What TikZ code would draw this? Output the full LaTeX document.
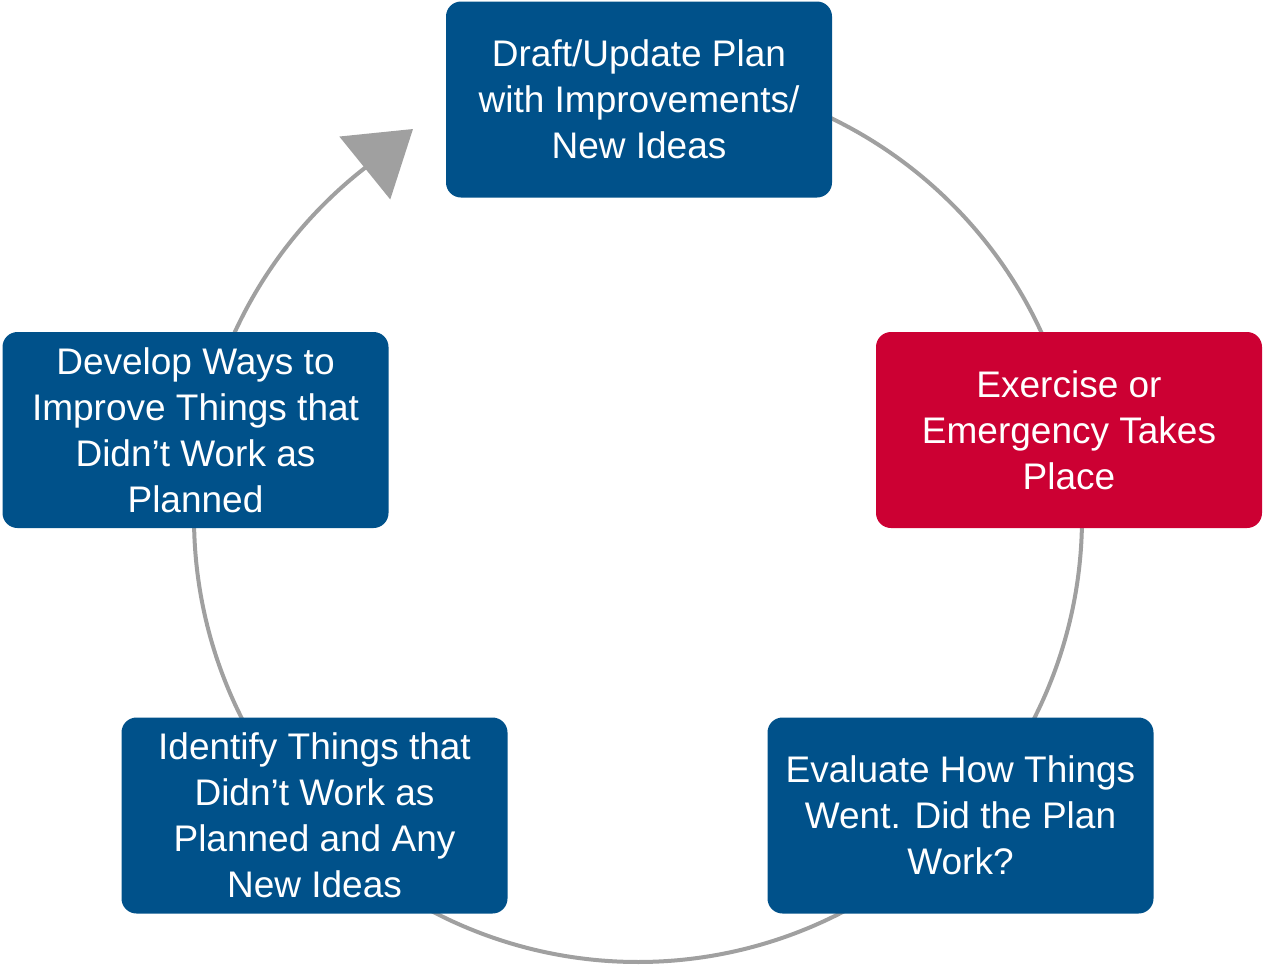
\documentclass[tikz,border=0pt]{standalone}
\usepackage{fontspec}
\setmainfont{Liberation Sans}
\usetikzlibrary{arrows.meta,backgrounds}
\definecolor{boxblue}{HTML}{00518A}
\definecolor{boxred}{HTML}{CC0033}
\definecolor{ringgray}{HTML}{A0A0A0}
\begin{document}
\begin{tikzpicture}[x=1pt,y=1pt,
  stepbox/.style={rounded corners=15pt, minimum width=386pt, minimum height=196pt,
    inner sep=0pt, align=center, text=white, font=\fontsize{37}{46}\selectfont},
  bluebox/.style={stepbox, fill=boxblue},
  redbox/.style={stepbox, fill=boxred},
  ring/.style={draw=ringgray, line width=4pt},
]
\useasboundingbox (0,0) rectangle (1263,-967);
\coordinate (c) at (638,-518);
\coordinate (tip) at (413,-129);

\node[bluebox] (plan) at (639,-99.5) {Draft/Update Plan\\with Improvements/\\New Ideas};
\node[redbox] (exercise) at (1069,-430) {Exercise or\\Emergency Takes\\Place};
\node[bluebox] (evaluate) at (960.5,-815.5) {Evaluate How Things\\Went. Did the Plan\\Work?};
\node[bluebox] (identify) at (314.5,-815.5) {Identify Things that\\Didn’t Work as\\Planned and Any\\New Ideas};
\node[bluebox] (develop) at (195.5,-430) {Develop Ways to\\Improve Things that\\Didn’t Work as\\Planned};

\begin{scope}[on background layer]
  \draw[ring] (c) ++(90:444) arc[start angle=90, end angle=11.5, radius=444];
  \draw[ring] (c) ++(11.5:444) arc[start angle=11.5, end angle=-42.7, radius=444];
  \draw[ring] (c) ++(-42.7:444) arc[start angle=-42.7, end angle=-137.4, radius=444];
  \draw[ring] (c) ++(-137.4:444) arc[start angle=-137.4, end angle=-191.2, radius=444];
  \draw[ring, -{Triangle[length=62pt, width=80pt]}] (c) ++(-191.2:444)
      arc[start angle=-191.2, end angle=-232, radius=444] -- (tip);
\end{scope}
\end{tikzpicture}
\end{document}
